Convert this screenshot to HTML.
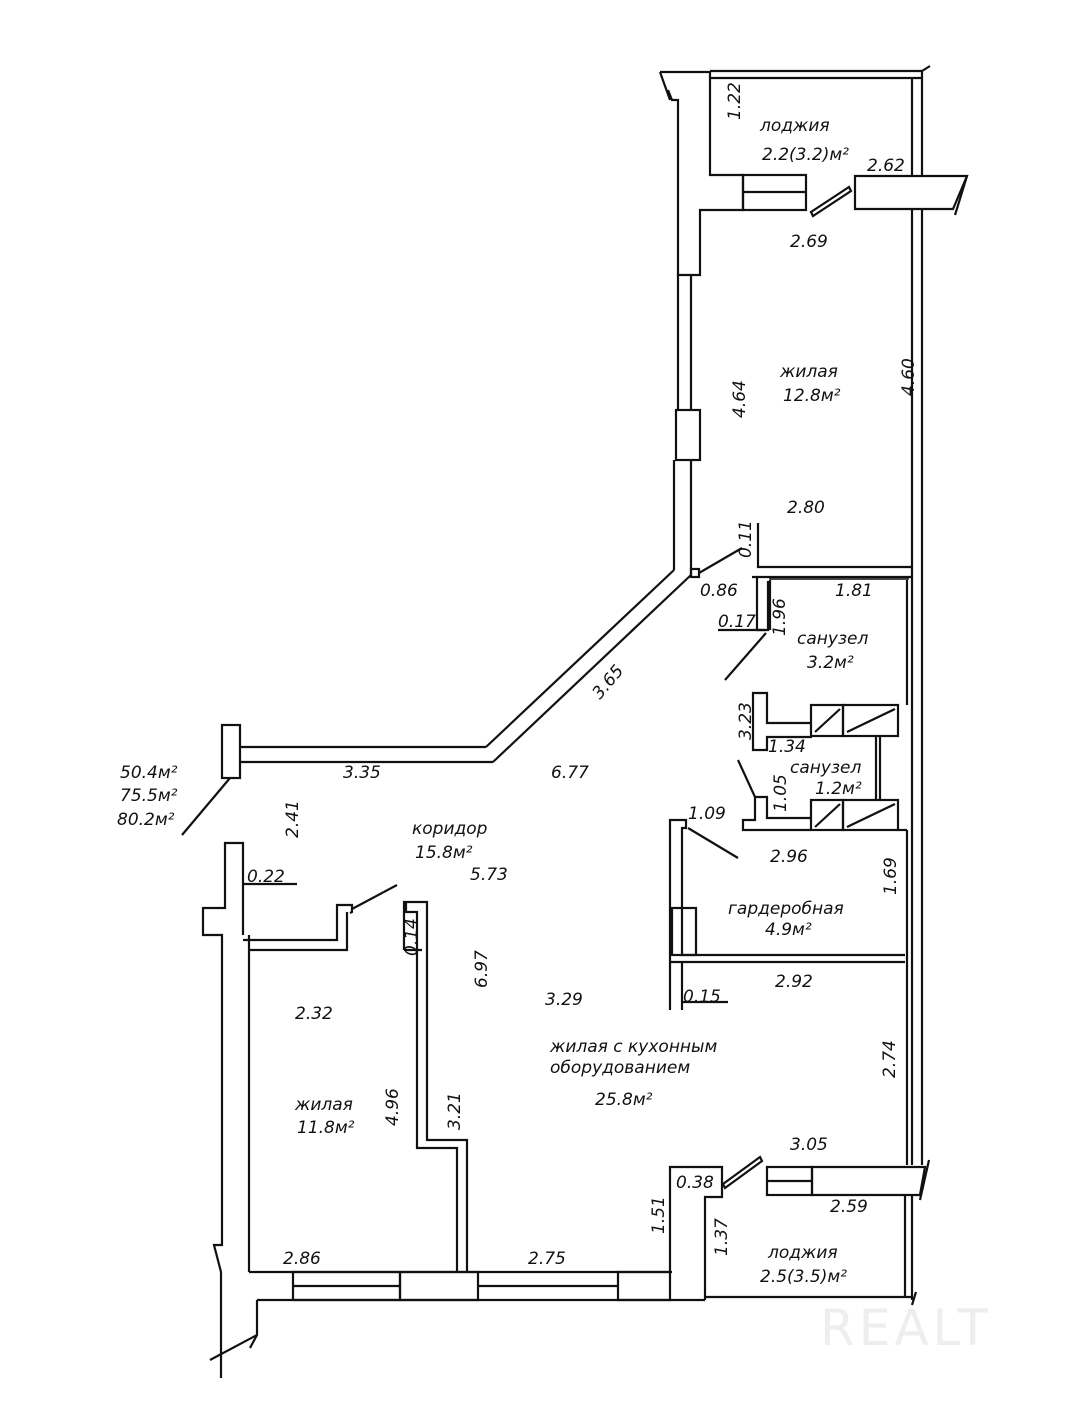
<!DOCTYPE html>
<html><head><meta charset="utf-8"><style>
html,body{margin:0;padding:0;background:#fff}
svg{display:block}
text{font-family:"DejaVu Sans","Liberation Sans",sans-serif;font-style:italic;font-size:17px;fill:#111}
</style></head><body>
<svg width="1078" height="1410" viewBox="0 0 1078 1410" xmlns="http://www.w3.org/2000/svg">
<g fill="none" stroke="#111" stroke-width="2.2" stroke-linejoin="miter">
<!-- top loggia -->
<line x1="710" y1="71" x2="922" y2="71"/>
<line x1="710" y1="78" x2="922" y2="78"/>
<line x1="912" y1="78" x2="912" y2="176"/>
<line x1="922" y1="71" x2="922" y2="176"/>
<line x1="922" y1="71" x2="930" y2="66"/>
<!-- left upper thick wall -->
<polyline points="660,72 710,72 710,175 743,175 743,210 700,210 700,275 678,275 678,100 672,100 668,90"/>
<line x1="660" y1="72" x2="670" y2="100"/>
<rect x="743" y="175" width="63" height="35"/>
<line x1="743" y1="192" x2="806" y2="192"/>
<polygon points="811,212 849,187 851,191 813,216"/>
<polygon points="855,176 967,176 953,209 855,209"/>
<line x1="967" y1="176" x2="955" y2="215"/>
<!-- right outer wall -->
<line x1="912" y1="209" x2="912" y2="1165"/>
<line x1="922" y1="209" x2="922" y2="1165"/>
<!-- upper thin wall -->
<line x1="678" y1="275" x2="678" y2="410"/>
<line x1="691" y1="275" x2="691" y2="410"/>
<rect x="676" y="410" width="24" height="50"/>
<line x1="674" y1="460" x2="674" y2="570"/>
<line x1="691" y1="460" x2="691" y2="575"/>
<rect x="691" y="569" width="8" height="8"/>
<line x1="699" y1="573" x2="742" y2="548"/>
<!-- diagonal wall -->
<line x1="674" y1="570" x2="486" y2="747"/>
<line x1="691" y1="575" x2="493" y2="762"/>
<line x1="486" y1="747" x2="240" y2="747"/>
<line x1="493" y1="762" x2="240" y2="762"/>
<rect x="222" y="725" width="18" height="53"/>
<line x1="230" y1="778" x2="182" y2="835"/>
<!-- bathroom 1 -->
<polyline points="758,523 758,567 912,567"/>
<line x1="757" y1="577" x2="912" y2="577"/>
<polyline points="752,577 757,577 757,630 768,630 768,588 768,581"/>
<rect x="770" y="577" width="138" height="2" stroke-width="1.5"/>
<line x1="770" y1="580" x2="770" y2="630"/>
<line x1="907" y1="580" x2="907" y2="705"/>
<line x1="718" y1="630" x2="765" y2="630"/>
<line x1="766" y1="633" x2="725" y2="680"/>
<!-- bathroom 2 -->
<polyline points="812,723 767,723 767,693 753,693 753,750 767,750 767,737 812,737"/>
<rect x="811" y="705" width="32" height="31"/>
<rect x="843" y="705" width="55" height="31"/>
<line x1="815" y1="732" x2="840" y2="709"/>
<line x1="847" y1="732" x2="895" y2="709"/>
<line x1="876" y1="737" x2="876" y2="800"/>
<line x1="880" y1="737" x2="880" y2="800"/>
<rect x="811" y="800" width="32" height="30"/>
<rect x="843" y="800" width="55" height="30"/>
<line x1="815" y1="827" x2="840" y2="804"/>
<line x1="847" y1="827" x2="895" y2="804"/>
<polyline points="811,830 743,830 743,820 755,820 755,797 767,797 767,818 811,818"/>
<line x1="898" y1="830" x2="907" y2="830"/>
<line x1="755" y1="797" x2="738" y2="760"/>
<!-- wardrobe -->
<polyline points="907,830 907,1165"/>
<polyline points="670,1010 670,820 686,820 686,828 682,828 682,955 905,955"/>
<line x1="670" y1="962" x2="905" y2="962"/>
<polyline points="682,962 682,1010"/>
<rect x="672" y="908" width="24" height="47"/>
<line x1="688" y1="828" x2="738" y2="858"/>
<line x1="681" y1="1002" x2="728" y2="1002"/>
<!-- left walls -->
<polyline points="243,908 243,843 225,843 225,908 203,908 203,935 222,935 222,1245 214,1245 221,1272 221,1378"/>
<line x1="249" y1="935" x2="249" y2="1272"/>
<line x1="243" y1="908" x2="243" y2="935"/>
<line x1="243" y1="884" x2="297" y2="884"/>
<polyline points="243,940 337,940 337,905 352,905 352,912 350,913"/>
<polyline points="249,950 347,950 347,912"/>
<line x1="352" y1="909" x2="397" y2="885"/>
<!-- partition right of room -->
<polyline points="404,950 404,902 427,902 427,1140 467,1140 467,1272"/>
<polyline points="406,902 406,912 417,912 417,1148 457,1148 457,1272"/>
<line x1="404" y1="950" x2="422" y2="950"/>
<!-- bottom wall -->
<line x1="249" y1="1272" x2="672" y2="1272"/>
<line x1="257" y1="1300" x2="705" y2="1300"/>
<polyline points="257,1300 257,1335 250,1348"/>
<line x1="257" y1="1335" x2="210" y2="1360"/>
<rect x="293" y="1272" width="107" height="28"/>
<line x1="293" y1="1286" x2="400" y2="1286"/>
<rect x="400" y="1272" width="78" height="28"/>
<line x1="478" y1="1286" x2="618" y2="1286"/>
<rect x="618" y="1272" width="52" height="28"/>
<polyline points="670,1272 670,1167 722,1167 722,1197 705,1197 705,1300"/>
<polygon points="723,1184 760,1157 762,1161 725,1188"/>
<rect x="767" y="1167" width="45" height="28"/>
<line x1="767" y1="1181" x2="812" y2="1181"/>
<polygon points="812,1167 925,1167 920,1195 812,1195"/>
<line x1="929" y1="1160" x2="920" y2="1200"/>
<line x1="705" y1="1297" x2="912" y2="1297"/>
<line x1="905" y1="1195" x2="905" y2="1297"/>
<line x1="912" y1="1195" x2="912" y2="1300"/>
<line x1="916" y1="1292" x2="912" y2="1305"/>
</g>
<!-- labels -->
<text x="760" y="131">лоджия</text>
<text x="762" y="160">2.2(3.2)м²</text>
<text x="867" y="171">2.62</text>
<text x="790" y="247">2.69</text>
<text transform="translate(740,120) rotate(-90)">1.22</text>
<text x="780" y="377">жилая</text>
<text x="783" y="401">12.8м²</text>
<text transform="translate(745,418) rotate(-90)">4.64</text>
<text transform="translate(914,396) rotate(-90)">4.60</text>
<text x="787" y="513">2.80</text>
<text transform="translate(751,558) rotate(-90)">0.11</text>
<text x="700" y="596">0.86</text>
<text x="835" y="596">1.81</text>
<text x="718" y="627">0.17</text>
<text transform="translate(785,636) rotate(-90)">1.96</text>
<text x="797" y="644">санузел</text>
<text x="807" y="668">3.2м²</text>
<text transform="translate(751,740) rotate(-90)">3.23</text>
<text x="768" y="752">1.34</text>
<text x="790" y="773">санузел</text>
<text x="815" y="794">1.2м²</text>
<text transform="translate(786,812) rotate(-90)">1.05</text>
<text x="688" y="819">1.09</text>
<text x="770" y="862">2.96</text>
<text transform="translate(896,895) rotate(-90)">1.69</text>
<text x="728" y="914">гардеробная</text>
<text x="765" y="935">4.9м²</text>
<text x="775" y="987">2.92</text>
<text x="683" y="1002">0.15</text>
<text x="120" y="778">50.4м²</text>
<text x="120" y="801">75.5м²</text>
<text x="117" y="825">80.2м²</text>
<text x="343" y="778">3.35</text>
<text transform="translate(298,838) rotate(-90)">2.41</text>
<text x="412" y="834">коридор</text>
<text x="415" y="858">15.8м²</text>
<text x="470" y="880">5.73</text>
<text x="551" y="778">6.77</text>
<text transform="translate(600,700) rotate(-50)">3.65</text>
<text x="247" y="882">0.22</text>
<text transform="translate(417,956) rotate(-90)">0.14</text>
<text transform="translate(487,988) rotate(-90)">6.97</text>
<text x="295" y="1019">2.32</text>
<text x="545" y="1005">3.29</text>
<text x="550" y="1052">жилая с кухонным</text>
<text x="550" y="1073">оборудованием</text>
<text x="595" y="1105">25.8м²</text>
<text transform="translate(895,1078) rotate(-90)">2.74</text>
<text transform="translate(398,1126) rotate(-90)">4.96</text>
<text transform="translate(460,1130) rotate(-90)">3.21</text>
<text x="295" y="1110">жилая</text>
<text x="297" y="1133">11.8м²</text>
<text x="790" y="1150">3.05</text>
<text x="676" y="1188">0.38</text>
<text x="830" y="1212">2.59</text>
<text transform="translate(664,1234) rotate(-90)">1.51</text>
<text transform="translate(727,1256) rotate(-90)">1.37</text>
<text x="768" y="1258">лоджия</text>
<text x="760" y="1282">2.5(3.5)м²</text>
<text x="283" y="1264">2.86</text>
<text x="528" y="1264">2.75</text>
<text x="820" y="1345" style="font-style:normal;font-size:50px;fill:#eee;letter-spacing:4px">REALT</text>
</svg>
</body></html>
